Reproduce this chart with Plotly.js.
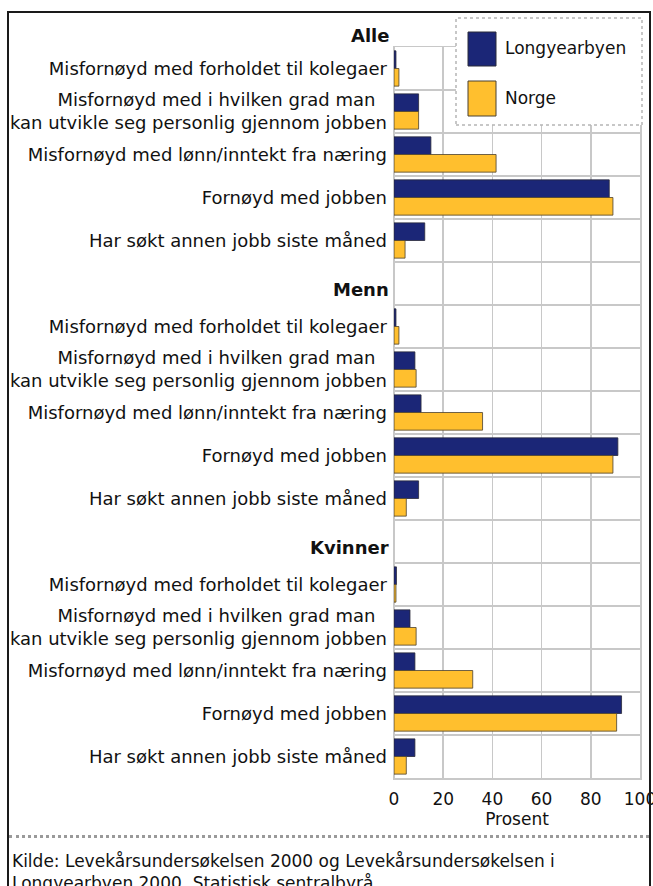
<!DOCTYPE html>
<html><head><meta charset="utf-8">
<script src="https://cdn.plot.ly/plotly-3.0.1.min.js"></script>
<style>
html,body{margin:0;padding:0;background:#fff;overflow:hidden}
#chart{width:653px;height:886px;position:absolute;left:0;top:0}
#frame{position:absolute;left:7px;top:11px;width:644px;height:880px;border:2px solid #1a1a1a;border-bottom:none;pointer-events:none;box-sizing:border-box}
#sep{position:absolute;left:9px;top:835px;width:640px;height:0;border-top:3px dotted #9a9a9a;pointer-events:none}
</style></head><body>
<div id="chart"></div><div id="frame"></div><div id="sep"></div>
<script>
// ---- data ----
const groups = ["Alle", "Menn", "Kvinner"];
const items = [
  "Misfornøyd med forholdet til kolegaer",
  "Misfornøyd med i hvilken grad man\u00a0\u00a0<br>kan utvikle seg personlig gjennom jobben",
  "Misfornøyd med lønn/inntekt fra næring",
  "Fornøyd med jobben",
  "Har søkt annen jobb siste måned"
];
const seriesNames = ["Longyearbyen", "Norge"];
const longyearbyenAlle    = [0.8, 10, 15, 87.5, 12.5];
const norgeAlle           = [2, 10, 41.5, 89, 4.5];
const longyearbyenMenn    = [0.8, 8.5, 11, 91, 10];
const norgeMenn           = [2, 9, 36, 89, 5];
const longyearbyenKvinner = [1, 6.5, 8.5, 92.5, 8.5];
const norgeKvinner        = [0.8, 9, 32, 90.5, 5];
const xTicks = [0, 20, 40, 60, 80, 100];
const xTitle = "Prosent";
const sourceText = "Kilde: Levekårsundersøkelsen 2000 og Levekårsundersøkelsen i<br>Longyearbyen 2000. Statistisk sentralbyrå.";

// ---- build ----
const L = [longyearbyenAlle, longyearbyenMenn, longyearbyenKvinner];
const N = [norgeAlle, norgeMenn, norgeKvinner];
const step = items.length + 1;
let yPos = [], yLab = [], lx = [], ly = [], nx = [], ny = [], headerPos = [];
groups.forEach((g, gi) => {
  headerPos.push(gi * step);
  items.forEach((it, ii) => {
    const p = gi * step + ii + 1;
    yPos.push(p); yLab.push(it);
    lx.push(L[gi][ii]); ly.push(p);
    nx.push(N[gi][ii]); ny.push(p);
  });
});
const total = groups.length * step;
const bounds = [];
for (let b = 0.5; b <= total - 0.5; b += 1) bounds.push(b);

const W = 653, H = 886, ml = 394, mr = 13, mt = 47, mb = 108;
const pw = W - ml - mr, ph = H - mt - mb;
const px = x => (x - ml) / pw, py = y => (H - mb - y) / ph;

const blue = "#1b2677", orange = "#ffbf2e";
const font = "DejaVu Sans, Verdana, sans-serif";
const grid = "#c8c8c8";

const traces = [
  {type: "bar", orientation: "h", name: seriesNames[0], x: lx, y: ly,
   marker: {color: blue, line: {color: "#2a2a3a", width: 0.8}}, showlegend: false},
  {type: "bar", orientation: "h", name: seriesNames[1], x: nx, y: ny,
   marker: {color: orange, line: {color: "#4a4030", width: 0.8}}, showlegend: false}
];

const shapes = [
  {type: "rect", xref: "paper", yref: "paper", x0: px(456), x1: px(642), y0: py(125), y1: py(18),
   fillcolor: "#fff", line: {color: "#b5b5b5", width: 1.5, dash: "dot"}, layer: "above"},
  {type: "rect", xref: "paper", yref: "paper", x0: px(468), x1: px(496), y0: py(66), y1: py(32),
   fillcolor: blue, line: {color: "#2a2a3a", width: 1}, layer: "above"},
  {type: "rect", xref: "paper", yref: "paper", x0: px(468), x1: px(496), y0: py(116), y1: py(81),
   fillcolor: orange, line: {color: "#4a4030", width: 1}, layer: "above"}
];

const annotations = [
  {xref: "paper", yref: "paper", x: px(503), y: py(48), xanchor: "left", yanchor: "middle",
   text: seriesNames[0], showarrow: false, font: {size: 17, color: "#111", family: font}},
  {xref: "paper", yref: "paper", x: px(503), y: py(98), xanchor: "left", yanchor: "middle",
   text: seriesNames[1], showarrow: false, font: {size: 17, color: "#111", family: font}},
  {xref: "paper", yref: "paper", x: px(10), y: py(849), xanchor: "left", yanchor: "top", align: "left",
   text: sourceText, showarrow: false, font: {size: 17, color: "#111", family: font}}
];
// group headers (first one sits above the plotting range)
groups.forEach((g, gi) => {
  const inRange = headerPos[gi] > 0.5;
  annotations.push({
    xref: "paper", yref: inRange ? "y" : "paper", x: 0,
    y: inRange ? headerPos[gi] : py(36),
    xanchor: "right", yanchor: "middle", xshift: -3, yshift: inRange ? -6 : 0,
    text: "<b>" + g + "</b>", showarrow: false, font: {size: 18, color: "#111", family: font}
  });
});

const layout = {
  width: W, height: H,
  margin: {l: ml, r: mr, t: mt, b: mb, pad: 0},
  paper_bgcolor: "#fff", plot_bgcolor: "#fff",
  barmode: "group", bargap: 0.18, bargroupgap: 0,
  font: {family: font, size: 18, color: "#111"},
  xaxis: {range: [0, 100], tickmode: "array", tickvals: xTicks, ticktext: xTicks.map(String),
          showgrid: true, gridcolor: grid, gridwidth: 1.5,
          zeroline: true, zerolinecolor: grid, zerolinewidth: 1.5,
          showline: true, mirror: true, linecolor: grid, linewidth: 1.5,
          ticks: "", tickfont: {size: 17}, ticklabelstandoff: 5, ticklabeloverflow: "allow",
          title: {text: xTitle, font: {size: 17}, standoff: 0}},
  yaxis: {range: [total - 0.5, 0.5], tickmode: "array", tickvals: yPos, ticktext: yLab,
          showgrid: false, zeroline: false, ticks: "", tickfont: {size: 18}, ticklabelstandoff: 2,
          showline: true, mirror: true, linecolor: grid, linewidth: 1.5,
          minor: {tickmode: "array", tickvals: bounds, showgrid: true, gridcolor: grid, gridwidth: 1.5, ticks: ""}},
  shapes: shapes, annotations: annotations
};

Plotly.newPlot("chart", traces, layout, {displayModeBar: false, staticPlot: true});
</script></body></html>
